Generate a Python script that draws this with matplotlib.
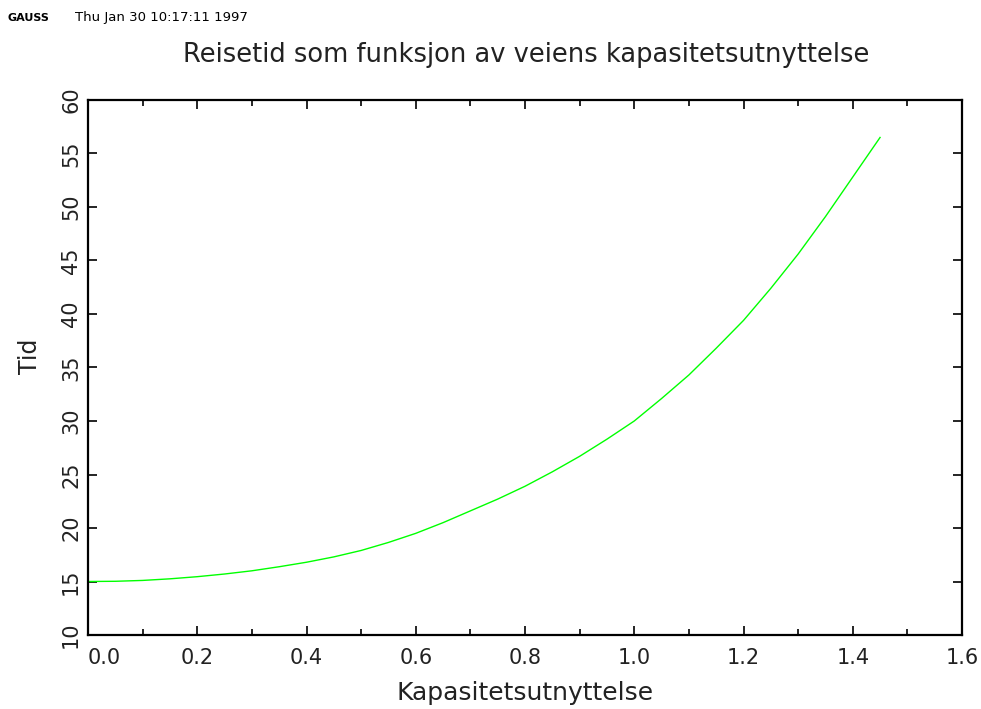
import matplotlib
matplotlib.use("Agg")
import matplotlib.pyplot as plt
from matplotlib.ticker import MultipleLocator

# values
kapasitet = [0.0, 0.05, 0.1, 0.15, 0.2, 0.25, 0.3, 0.35, 0.4, 0.45, 0.5,
             0.55, 0.6, 0.65, 0.7, 0.75, 0.8, 0.85, 0.9, 0.95, 1.0,
             1.05, 1.1, 1.15, 1.2, 1.25, 1.3, 1.35, 1.4, 1.45]
tid = [15.0, 15.02, 15.1, 15.25, 15.45, 15.7, 16.0, 16.38, 16.8, 17.3, 17.9,
       18.65, 19.5, 20.5, 21.6, 22.7, 23.9, 25.25, 26.7, 28.3, 30.0,
       32.1, 34.3, 36.8, 39.4, 42.4, 45.6, 49.1, 52.8, 56.5]

xticks = [0.0, 0.2, 0.4, 0.6, 0.8, 1.0, 1.2, 1.4, 1.6]
yticks = [10, 15, 20, 25, 30, 35, 40, 45, 50, 55, 60]

plt.rcParams['font.family'] = ['DejaVu Sans']

fig = plt.figure(figsize=(9.81, 7.09), dpi=100)
ax = fig.add_axes([88/981, 1 - 635/709, 874/981, 535/709])

ax.plot(kapasitet, tid, color='#00ff00', lw=1.0)

ax.set_xlim(0, 1.6)
ax.set_ylim(10, 60)
ax.set_xticks(xticks, ['%.1f' % v for v in xticks])
ax.set_yticks(yticks, [str(v) for v in yticks])
ax.xaxis.set_minor_locator(MultipleLocator(0.1))

for s in ax.spines.values():
    s.set_linewidth(1.6)

ax.tick_params(which='both', direction='in', top=True, right=True,
               width=1.2, colors='black')
ax.tick_params(which='major', length=6.5)
ax.tick_params(which='minor', length=4.5)
ax.tick_params(axis='x', labelsize=15, pad=9, labelcolor='#222222')
ax.tick_params(axis='y', labelsize=15, pad=5, labelrotation=90,
               labelcolor='#222222')
for lab in ax.get_yticklabels():
    lab.set_va('center')
ax.get_xticklabels()[0].set_ha('left')

ax.set_xlabel('Kapasitetsutnyttelse', fontsize=18, va='center', color='#222222')
ax.xaxis.set_label_coords(0.5, -0.108)
ax.set_ylabel('Tid', fontsize=17, va='center', color='#222222')
ax.yaxis.set_label_coords(-0.066, 0.52)

fig.text(526/981, 1 - 55/709, 'Reisetid som funksjon av veiens kapasitetsutnyttelse',
         fontsize=18.5, ha='center', va='center', color='#222222')
fig.text(8/981, 1 - 18/709, 'GAUSS', fontsize=8, fontweight='bold',
         ha='left', va='center')
fig.text(75/981, 1 - 18/709, 'Thu Jan 30 10:17:11 1997', fontsize=9.5,
         ha='left', va='center')

fig.savefig('out.png', dpi=100)
